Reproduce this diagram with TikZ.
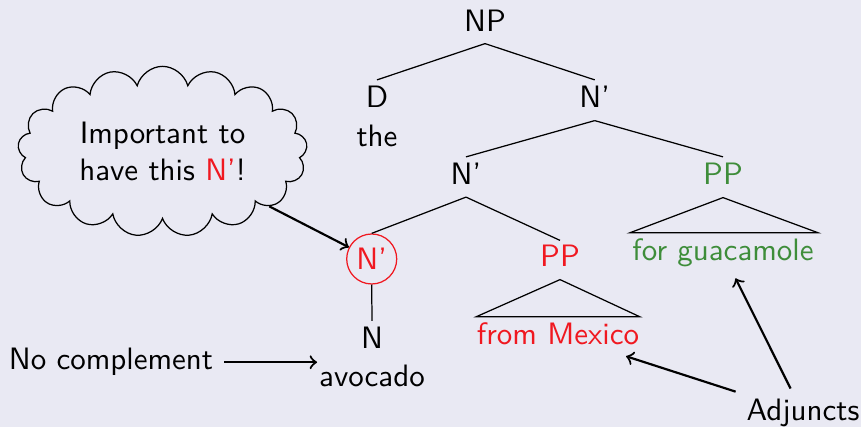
\documentclass[tikz,border=0pt]{standalone}
\usetikzlibrary{calc,shapes.symbols}
\definecolor{slidebg}{RGB}{233,233,243}
\definecolor{adjred}{RGB}{240,24,32}
\definecolor{adjgreen}{RGB}{62,141,58}
\begin{document}
\begin{tikzpicture}[x=0.323pt,y=-0.323pt,
  font=\sffamily,
  cat/.style={inner sep=0pt,anchor=base},
  phrase/.style={anchor=base},
  arr/.style={->,line width=0.7pt},
  thought/.style={cloud,draw,cloud puffs=17,cloud ignores aspect,
    minimum width=93.5pt,minimum height=55pt,align=center,inner sep=0pt}]
\fill[slidebg] (0,0) rectangle (861,427);
\useasboundingbox (0,0) rectangle (861,427);

% tree labels
\node[cat] (np) at (485,32) {NP};
\node[cat] (d) at (377,108) {D};
\node[cat] (the) at (377,147) {the};
\node[cat] (nb1) at (594.7,108) {N’};
\node[cat] (nb2) at (466,185) {N’};
\node[cat,text=adjgreen] (ppg) at (723,185) {PP};
\node[circle,draw=adjred,text=adjred,inner sep=0pt,minimum size=16.15pt] (nb3) at (371.7,259) {N’};
\node[cat] (n) at (372,349) {N};
\node[cat] (avo) at (372,387) {avocado};
\node[cat,text=adjred] (ppr) at (560,267) {PP};
\node[phrase,text=adjred] (mex) at (558,345) {from Mexico};
\node[phrase,text=adjgreen] (guac) at (723,261) {for guacamole};

% annotations
\node[phrase] (adj) at (803,421) {Adjuncts};
\node[phrase] (nocomp) at (111,370) {No complement};
\node[thought] (cloud) at (162.5,151.5) {Important to\\have this \textcolor{adjred}{N’}!};

% branches
\draw ($(np.south)+(0,11)$) -- ($(d.north)+(0,-6)$);
\draw ($(np.south)+(0,11)$) -- ($(nb1.north)+(0,-6)$);
\draw ($(nb1.south)+(0,12)$) -- ($(nb2.north)+(0,-6)$);
\draw ($(nb1.south)+(0,12)$) -- ($(ppg.north)+(0,-6)$);
\draw ($(nb2.south)+(0,11.5)$) -- (nb3.north);
\draw ($(nb2.south)+(0,11.5)$) -- ($(ppr.north)+(0,-4.5)$);
\draw (nb3.south) -- ($(n.north)+(0,-6)$);

% roofs over unanalysed phrases
\draw ($(ppr.south)+(0,12)$) -- ($(mex.north east)+(-10.3,4.5)$)
  -- ($(mex.north west)+(10.3,4.5)$) -- cycle;
\draw ($(ppg.south)+(0,12)$) -- ($(guac.north east)+(-6.6,4.5)$)
  -- ($(guac.north west)+(8.6,4.5)$) -- cycle;

% pointers
\draw[arr] (cloud) -- (nb3);
\draw[arr] (nocomp.east) -- ($(nocomp.east -| avo.west)+(-1.5,0)$);
\draw[arr] (adj) -- (mex);
\draw[arr] (adj) -- (guac);
\end{tikzpicture}
\end{document}
